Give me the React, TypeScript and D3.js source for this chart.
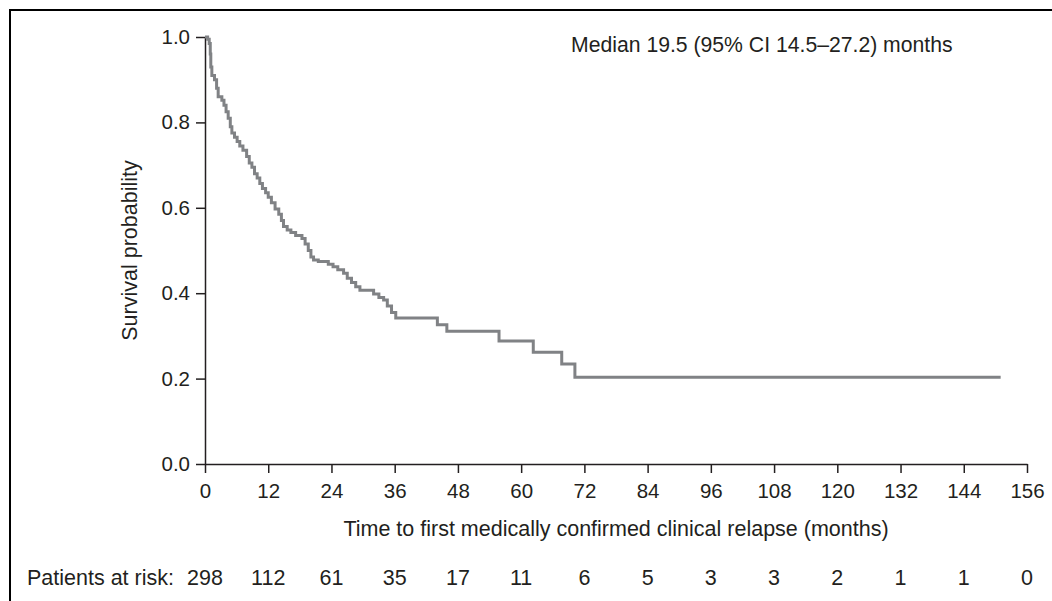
import React, { useEffect, useRef } from 'react';
import * as d3 from 'd3';

// Kaplan-Meier steps: time (months) and survival after the step
const times = [
  0, 0.5, 0.8, 1.0, 1.1, 1.3, 1.8, 2.2, 2.5, 3.2, 3.6, 4.0, 4.4, 4.8, 5.1, 5.6, 6.1, 6.6,
  7.2, 7.9, 8.4, 8.9, 9.4, 9.9, 10.4, 10.9, 11.5, 12.0, 12.6, 13.3, 14.0, 14.5, 14.9,
  15.6, 16.3, 17.2, 18.4, 19.0, 19.6, 20.1, 20.6, 21.5, 23.4, 24.3, 25.2, 26.3, 27.0,
  27.8, 28.6, 29.4, 32.0, 33.0, 33.9, 34.6, 35.4, 36.2, 44.1, 45.9, 55.8, 62.3, 67.7,
  70.2, 151
];
const survival = [
  1.0, 0.995, 0.985, 0.96, 0.93, 0.91, 0.9, 0.88, 0.86, 0.852, 0.84, 0.825, 0.81, 0.79,
  0.775, 0.765, 0.755, 0.745, 0.735, 0.72, 0.705, 0.695, 0.68, 0.67, 0.657, 0.645, 0.635,
  0.625, 0.612, 0.597, 0.585, 0.57, 0.556, 0.548, 0.542, 0.535, 0.528, 0.515, 0.5, 0.485,
  0.478, 0.474, 0.468, 0.462, 0.455, 0.447, 0.435, 0.425, 0.415, 0.407, 0.398, 0.39,
  0.384, 0.37, 0.355, 0.342, 0.326, 0.311, 0.288, 0.262, 0.234, 0.203, 0.203
];

const xTicks = [0, 12, 24, 36, 48, 60, 72, 84, 96, 108, 120, 132, 144, 156];
const yTicks = [0, 0.2, 0.4, 0.6, 0.8, 1.0];
const atRisk = [298, 112, 61, 35, 17, 11, 6, 5, 3, 3, 2, 1, 1, 0];

const width = 1052;
const height = 601;
const ink = '#231f20';
const font = 'Liberation Sans, Arial, Helvetica, sans-serif';

const App = () => {
  const svgRef = useRef<SVGSVGElement>(null);

  useEffect(() => {
    document.body.style.margin = '0';
    const svg = d3.select(svgRef.current);
    svg.selectAll('*').remove();

    const xScale = d3.scaleLinear().domain([0, 156]).range([205, 1027]);
    const yScale = d3.scaleLinear().domain([0, 1]).range([464, 37]);

    svg.append('rect').attr('width', width).attr('height', height).attr('fill', '#fff');

    // frame lines
    svg.append('line')
      .attr('x1', 9).attr('x2', width).attr('y1', 10).attr('y2', 10)
      .attr('stroke', '#000').attr('stroke-width', 2);
    svg.append('line')
      .attr('x1', 10).attr('x2', 10).attr('y1', 9).attr('y2', height)
      .attr('stroke', '#000').attr('stroke-width', 2);

    // axes
    const xAxis = svg.append('g')
      .attr('transform', `translate(0,${yScale(0)})`)
      .call(d3.axisBottom(xScale).tickValues(xTicks).tickSize(9).tickSizeOuter(0).tickPadding(10));
    const yAxis = svg.append('g')
      .attr('transform', `translate(${xScale(0)},0)`)
      .call(d3.axisLeft(yScale).tickValues(yTicks).tickFormat(d3.format('.1f')).tickSize(9).tickSizeOuter(0).tickPadding(6));

    [xAxis, yAxis].forEach(a => {
      a.select('.domain').attr('stroke', ink).attr('stroke-width', 1.5);
      a.selectAll('.tick line').attr('stroke', ink).attr('stroke-width', 1.5);
      a.selectAll('.tick text')
        .attr('fill', ink)
        .style('font-family', font)
        .style('font-size', '20.5px');
    });

    // survival curve
    const points = times.map((t, i) => [t, survival[i]] as [number, number]);
    const line = d3.line<[number, number]>()
      .x(d => xScale(d[0]))
      .y(d => yScale(d[1]))
      .curve(d3.curveStepAfter);

    svg.append('path')
      .datum(points)
      .attr('fill', 'none')
      .attr('stroke', '#808285')
      .attr('stroke-width', 3)
      .attr('d', line);

    // labels
    svg.append('text')
      .attr('x', 571).attr('y', 52)
      .attr('fill', ink)
      .style('font-family', font)
      .style('font-size', '21.2px')
      .text('Median 19.5 (95% CI 14.5–27.2) months');

    svg.append('text')
      .attr('transform', `translate(137,${(yScale(0) + yScale(1)) / 2}) rotate(-90)`)
      .attr('text-anchor', 'middle')
      .attr('fill', ink)
      .style('font-family', font)
      .style('font-size', '21.5px')
      .text('Survival probability');

    svg.append('text')
      .attr('x', (xScale(0) + xScale(156)) / 2).attr('y', 536)
      .attr('text-anchor', 'middle')
      .attr('fill', ink)
      .style('font-family', font)
      .style('font-size', '21.5px')
      .text('Time to first medically confirmed clinical relapse (months)');

    // patients at risk
    svg.append('text')
      .attr('x', 27).attr('y', 585)
      .attr('fill', ink)
      .style('font-family', font)
      .style('font-size', '21.5px')
      .text('Patients at risk:');

    svg.append('g')
      .selectAll('text')
      .data(atRisk)
      .enter()
      .append('text')
      .attr('x', (d, i) => xScale(xTicks[i]))
      .attr('y', 585)
      .attr('text-anchor', 'middle')
      .attr('fill', ink)
      .style('font-family', font)
      .style('font-size', '21.5px')
      .text(d => d);
  }, []);

  return (
    <svg ref={svgRef} width={width} height={height} style={{ display: 'block' }}></svg>
  );
};

export default App;
